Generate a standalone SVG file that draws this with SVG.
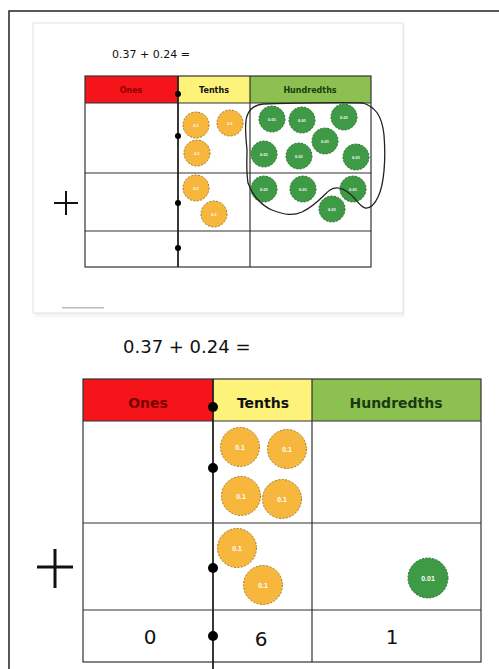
<svg xmlns="http://www.w3.org/2000/svg" width="499" height="669" viewBox="0 0 499 669">
<defs>
<style>
.frame{fill:none;stroke:#222;stroke-width:1.5}
.grid{fill:none;stroke:#333;stroke-width:1.2}
.gridb{fill:none;stroke:#222;stroke-width:1.8}
.ones{fill:#f5141a}
.tenths{fill:#fdf27a}
.hund{fill:#8cc152}
.hdr{font-family:"DejaVu Sans",sans-serif;font-weight:bold;text-anchor:middle}
.yc{fill:#f6b73c;stroke:#9a7a2a;stroke-width:1;stroke-dasharray:2 1.5}
.gc{fill:#3f9a46;stroke:#2c6e31;stroke-width:1;stroke-dasharray:2 1.5}
.ct{font-family:"Liberation Sans",sans-serif;font-weight:bold;fill:#fff;text-anchor:middle}
.eq{font-family:"DejaVu Sans",sans-serif;fill:#111}
.dot{fill:#000}
.num{font-family:"DejaVu Sans",sans-serif;font-size:20px;fill:#111;text-anchor:middle}
</style>
</defs>
<rect width="499" height="669" fill="#fff"/>
<path class="frame" d="M9,669 V11 H499"/>

<g id="screenshot">
<rect x="35" y="25" width="370" height="292" fill="#eee" opacity="0.6"/>
<rect x="33" y="23" width="370" height="290" fill="#fff" stroke="#e2e2e2" stroke-width="1"/>
<text class="eq" x="112" y="58" font-size="11">0.37 + 0.24 =</text>
<rect class="ones" x="85" y="76" width="93" height="27"/>
<rect class="tenths" x="178" y="76" width="72" height="27"/>
<rect class="hund" x="250" y="76" width="121" height="27"/>
<text class="hdr" x="131" y="93" font-size="8" fill="#8a0000">Ones</text>
<text class="hdr" x="214" y="93" font-size="8" fill="#111">Tenths</text>
<text class="hdr" x="310" y="93" font-size="8" fill="#1a3a10">Hundredths</text>
<rect class="grid" x="85" y="76" width="286" height="191"/>
<path class="grid" d="M85,103 H371 M85,173 H371 M85,231 H371 M250,76 V267"/>
<path class="gridb" d="M178,76 V267"/>
<circle class="dot" cx="178" cy="94" r="3"/>
<circle class="dot" cx="178" cy="136" r="3"/>
<circle class="dot" cx="178" cy="203" r="3"/>
<circle class="dot" cx="178" cy="248" r="3"/>
<path d="M54,203 H78 M66,191 V215" stroke="#111" stroke-width="2" fill="none"/>
<g id="top-tenths">
<circle class="yc" cx="196" cy="125" r="13"/>
<circle class="yc" cx="230" cy="123" r="13"/>
<circle class="yc" cx="197" cy="153" r="13"/>
<circle class="yc" cx="196" cy="188" r="13"/>
<circle class="yc" cx="214" cy="214" r="13"/>
<g class="ct" font-size="4">
<text x="196" y="126.5">0.1</text><text x="230" y="124.5">0.1</text><text x="197" y="154.5">0.1</text><text x="196" y="189.5">0.1</text><text x="214" y="215.5">0.1</text>
</g>
</g>
<g id="top-hundredths">
<circle class="gc" cx="272" cy="119" r="13"/>
<circle class="gc" cx="302" cy="120" r="13"/>
<circle class="gc" cx="344" cy="117" r="13"/>
<circle class="gc" cx="325" cy="141" r="13"/>
<circle class="gc" cx="264" cy="154" r="13"/>
<circle class="gc" cx="299" cy="156" r="13"/>
<circle class="gc" cx="356" cy="157" r="13"/>
<circle class="gc" cx="264" cy="189" r="13"/>
<circle class="gc" cx="303" cy="189" r="13"/>
<circle class="gc" cx="353" cy="189" r="13"/>
<circle class="gc" cx="332" cy="209" r="13"/>
<g class="ct" font-size="4">
<text x="272" y="120.5">0.01</text><text x="302" y="121.5">0.01</text><text x="344" y="118.5">0.01</text><text x="325" y="142.5">0.01</text><text x="264" y="155.5">0.01</text><text x="299" y="157.5">0.01</text><text x="356" y="158.5">0.01</text><text x="264" y="190.5">0.01</text><text x="303" y="190.5">0.01</text><text x="353" y="190.5">0.01</text><text x="332" y="210.5">0.01</text>
</g>
</g>
<path d="M263,104 C300,103 340,102 363,103 C375,107 382,115 384,135 C386,160 384,185 378,197 C375,204 370,209 365,208 C358,205 355,197 350,194 C343,188 336,186 330,190 C324,194 318,204 302,212 C293,216 285,215 272,210 C262,206 252,195 248,183 C246,170 247,160 247,150 C246,138 244,125 247,116 C249,110 254,105 263,104 Z" fill="none" stroke="#222" stroke-width="1.3"/>
<rect x="62" y="307" width="42" height="1.5" fill="#bbb"/>
</g>

<text class="eq" x="123" y="353" font-size="18">0.37 + 0.24 =</text>

<g id="table">
<rect class="ones" x="83" y="379" width="130" height="42"/>
<rect class="tenths" x="213" y="379" width="99" height="42"/>
<rect class="hund" x="312" y="379" width="169" height="42"/>
<text class="hdr" x="148" y="408" font-size="14" fill="#7a0000">Ones</text>
<text class="hdr" x="263" y="408" font-size="14" fill="#111">Tenths</text>
<text class="hdr" x="396" y="408" font-size="14" fill="#1a3a10">Hundredths</text>
<rect class="grid" x="83" y="379" width="398" height="283"/>
<path class="grid" d="M83,421 H481 M83,523 H481 M83,610 H481 M312,379 V662"/>
<path class="gridb" d="M213,379 V669"/>
<circle class="dot" cx="213" cy="407" r="5"/>
<circle class="dot" cx="213" cy="468" r="5"/>
<circle class="dot" cx="213" cy="568" r="5"/>
<circle class="dot" cx="213" cy="636" r="5"/>
</g>

<g id="plus">
<path d="M37,567 H73 M55,549 V588" stroke="#111" stroke-width="3" fill="none"/>
</g>

<g id="tenths-counters">
<circle class="yc" cx="240" cy="447" r="19.5"/>
<circle class="yc" cx="287" cy="449" r="19.5"/>
<circle class="yc" cx="241" cy="496" r="19.5"/>
<circle class="yc" cx="282" cy="499" r="19.5"/>
<circle class="yc" cx="237" cy="548" r="19.5"/>
<circle class="yc" cx="263" cy="585" r="19.5"/>
<g class="ct" font-size="7">
<text x="240" y="449.5">0.1</text><text x="287" y="451.5">0.1</text><text x="241" y="498.5">0.1</text><text x="282" y="501.5">0.1</text><text x="237" y="550.5">0.1</text><text x="263" y="587.5">0.1</text>
</g>
</g>

<g id="hundredths-counter">
<circle class="gc" cx="428" cy="578" r="20"/>
<text class="ct" x="428" y="580.5" font-size="7">0.01</text>
</g>

<g id="answer">
<text class="num" x="150" y="644">0</text>
<text class="num" x="261" y="646">6</text>
<text class="num" x="392" y="644">1</text>
</g>
</svg>
